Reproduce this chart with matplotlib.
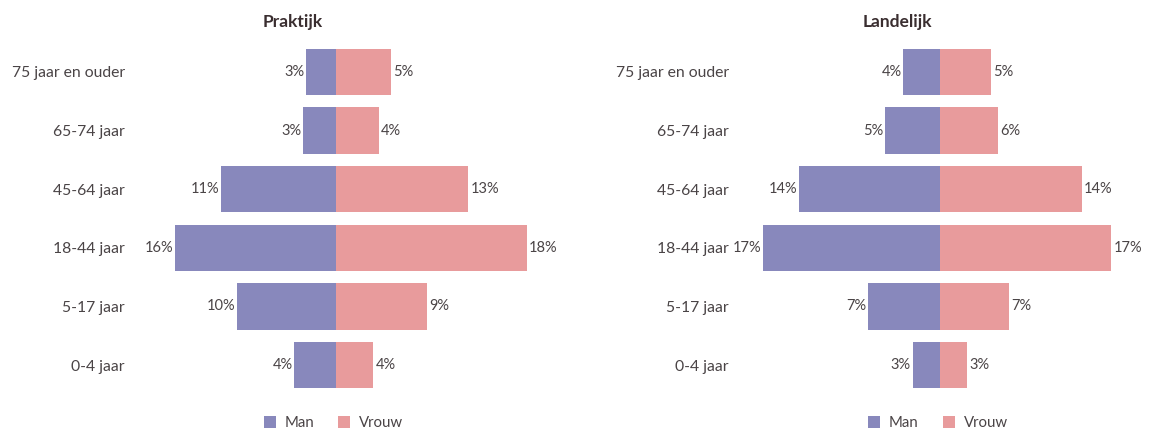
import matplotlib
matplotlib.use("Agg")
import matplotlib.pyplot as plt
from matplotlib.patches import Patch
from matplotlib.transforms import blended_transform_factory

# Age groups, top to bottom
age_groups = ["75 jaar en ouder", "65-74 jaar", "45-64 jaar", "18-44 jaar", "5-17 jaar", "0-4 jaar"]

# Share of population (%) per age group
praktijk_man = [2.9, 3.2, 11.2, 15.7, 9.6, 4.1]
praktijk_vrouw = [5.3, 4.1, 12.8, 18.5, 8.8, 3.6]
landelijk_man = [3.6, 5.4, 13.7, 17.2, 7.0, 2.7]
landelijk_vrouw = [4.9, 5.6, 13.7, 16.6, 6.7, 2.6]

panel_titles = ["Praktijk", "Landelijk"]
legend_labels = ["Man", "Vrouw"]

COL_MAN = "#8888bc"
COL_VROUW = "#e89b9c"
TEXT = "#4a4446"
TITLE = "#3a2e30"

plt.rcParams["font.family"] = ["Lato", "DejaVu Sans"]

W, H = 1173, 433
fig = plt.figure(figsize=(W / 100, H / 100), dpi=100)
fig.patch.set_facecolor("white")

def frac_x(px):
    return px / W

def frac_y(py):
    return 1 - py / H

ax_top, ax_bot = 42.7, 394.3
panels = [
    (140, praktijk_man, praktijk_vrouw, 293, 333.5),
    (744, landelijk_man, landelijk_vrouw, 897, 938),
]
xlim = (-19.05, 21.7)
ax_w = 420

for (left_px, man, vrouw, title_x, leg_x), title in zip(panels, panel_titles):
    ax = fig.add_axes([frac_x(left_px), frac_y(ax_bot), frac_x(ax_w),
                       (ax_bot - ax_top) / H])
    y = list(range(len(age_groups)))
    ax.barh(y, [-m for m in man], height=0.79, color=COL_MAN, linewidth=0)
    ax.barh(y, vrouw, height=0.79, color=COL_VROUW, linewidth=0)
    for yi, m, v in zip(y, man, vrouw):
        ax.text(-m - 0.15, yi, f"{m:.0f}%", ha="right", va="center",
                fontsize=10.5, color=TEXT)
        ax.text(v + 0.2, yi, f"{v:.0f}%", ha="left", va="center",
                fontsize=10.5, color=TEXT)
    ax.set_xlim(*xlim)
    ax.set_ylim(len(age_groups) - 0.5, -0.5)
    ax.set_yticks(y)
    ax.set_yticklabels(age_groups, fontsize=11.3, color=TEXT)
    ax.tick_params(axis="y", length=0, pad=11)
    ax.set_xticks([])
    for s in ax.spines.values():
        s.set_visible(False)

    fig.text(frac_x(title_x), frac_y(22), title, ha="center", va="center",
             fontsize=12.5, fontweight="bold", color=TITLE)

    handles = [Patch(facecolor=COL_MAN, edgecolor="none"),
               Patch(facecolor=COL_VROUW, edgecolor="none")]
    trans = blended_transform_factory(fig.transFigure, fig.transFigure)
    fig.legend(handles, legend_labels, loc="center",
               bbox_to_anchor=(frac_x(leg_x), frac_y(423)),
               bbox_transform=trans, ncol=2, frameon=False, fontsize=10.8,
               handlelength=0.8, handleheight=0.8, handletextpad=0.6,
               columnspacing=1.6, labelcolor=TEXT)

fig.savefig("out.png", dpi=100, facecolor="white")
